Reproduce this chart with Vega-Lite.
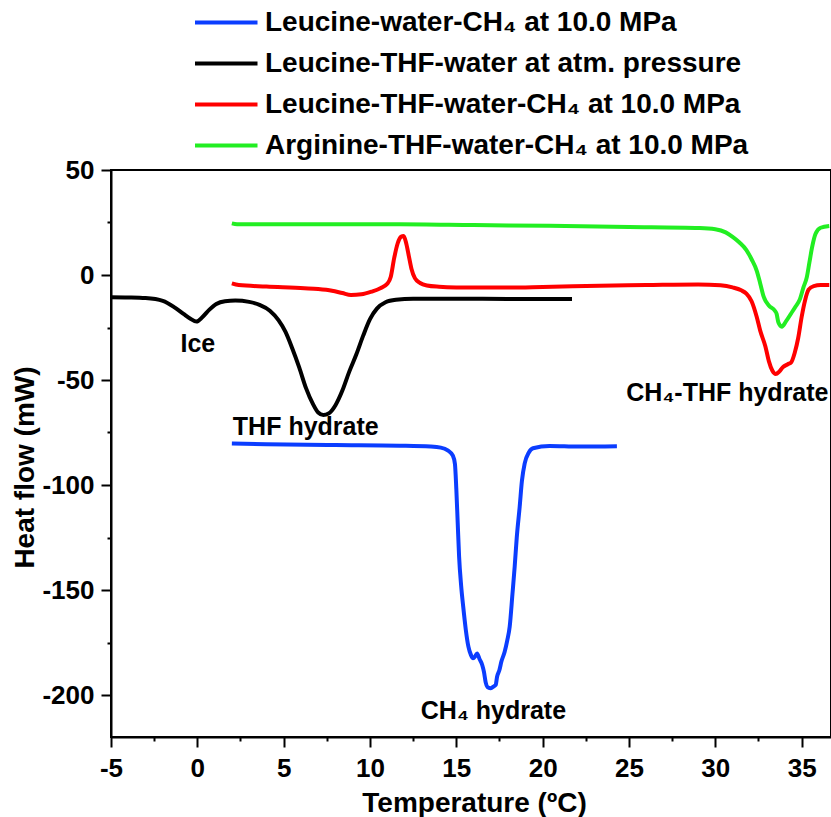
{
  "$schema": "https://vega.github.io/schema/vega-lite/v6.json",
  "width": 720,
  "height": 567,
  "autosize": {"type": "none"},
  "padding": {"left": 111, "top": 170, "right": 0, "bottom": 80},
  "background": "white",
  "config": {
    "view": {"stroke": "black", "strokeWidth": 2},
    "font": "Liberation Sans"
  },
  "datasets": {
    "curves": [
      {"series": "Leucine-THF-water at atm. pressure", "T": -5, "Q": -10.6},
      {"series": "Leucine-THF-water at atm. pressure", "T": -4, "Q": -10.7},
      {"series": "Leucine-THF-water at atm. pressure", "T": -3, "Q": -11.0},
      {"series": "Leucine-THF-water at atm. pressure", "T": -2, "Q": -12.3},
      {"series": "Leucine-THF-water at atm. pressure", "T": -1.3, "Q": -15.5},
      {"series": "Leucine-THF-water at atm. pressure", "T": -0.8, "Q": -18.5},
      {"series": "Leucine-THF-water at atm. pressure", "T": -0.4, "Q": -20.8},
      {"series": "Leucine-THF-water at atm. pressure", "T": -0.05, "Q": -22.2},
      {"series": "Leucine-THF-water at atm. pressure", "T": 0.3, "Q": -20.0},
      {"series": "Leucine-THF-water at atm. pressure", "T": 0.7, "Q": -16.5},
      {"series": "Leucine-THF-water at atm. pressure", "T": 1.1, "Q": -13.8},
      {"series": "Leucine-THF-water at atm. pressure", "T": 1.6, "Q": -12.5},
      {"series": "Leucine-THF-water at atm. pressure", "T": 2.2, "Q": -12.2},
      {"series": "Leucine-THF-water at atm. pressure", "T": 3.0, "Q": -12.8},
      {"series": "Leucine-THF-water at atm. pressure", "T": 3.6, "Q": -14.2},
      {"series": "Leucine-THF-water at atm. pressure", "T": 4.2, "Q": -17.0},
      {"series": "Leucine-THF-water at atm. pressure", "T": 4.7, "Q": -21.5},
      {"series": "Leucine-THF-water at atm. pressure", "T": 5.1, "Q": -27.0},
      {"series": "Leucine-THF-water at atm. pressure", "T": 5.5, "Q": -35.0},
      {"series": "Leucine-THF-water at atm. pressure", "T": 5.9, "Q": -44.0},
      {"series": "Leucine-THF-water at atm. pressure", "T": 6.3, "Q": -54.0},
      {"series": "Leucine-THF-water at atm. pressure", "T": 6.7, "Q": -61.5},
      {"series": "Leucine-THF-water at atm. pressure", "T": 7.0, "Q": -65.5},
      {"series": "Leucine-THF-water at atm. pressure", "T": 7.3, "Q": -66.7},
      {"series": "Leucine-THF-water at atm. pressure", "T": 7.6, "Q": -66.0},
      {"series": "Leucine-THF-water at atm. pressure", "T": 8.0, "Q": -62.0},
      {"series": "Leucine-THF-water at atm. pressure", "T": 8.4, "Q": -55.0},
      {"series": "Leucine-THF-water at atm. pressure", "T": 8.8, "Q": -46.0},
      {"series": "Leucine-THF-water at atm. pressure", "T": 9.2, "Q": -38.0},
      {"series": "Leucine-THF-water at atm. pressure", "T": 9.6, "Q": -29.0},
      {"series": "Leucine-THF-water at atm. pressure", "T": 10.0, "Q": -21.0},
      {"series": "Leucine-THF-water at atm. pressure", "T": 10.4, "Q": -16.0},
      {"series": "Leucine-THF-water at atm. pressure", "T": 10.9, "Q": -13.0},
      {"series": "Leucine-THF-water at atm. pressure", "T": 11.5, "Q": -11.8},
      {"series": "Leucine-THF-water at atm. pressure", "T": 12.5, "Q": -11.3},
      {"series": "Leucine-THF-water at atm. pressure", "T": 15, "Q": -11.3},
      {"series": "Leucine-THF-water at atm. pressure", "T": 18, "Q": -11.4},
      {"series": "Leucine-THF-water at atm. pressure", "T": 21.7, "Q": -11.4},

      {"series": "Leucine-THF-water-CH₄ at 10.0 MPa", "T": 2.0, "Q": -4.0},
      {"series": "Leucine-THF-water-CH₄ at 10.0 MPa", "T": 2.4, "Q": -4.8},
      {"series": "Leucine-THF-water-CH₄ at 10.0 MPa", "T": 4.0, "Q": -5.5},
      {"series": "Leucine-THF-water-CH₄ at 10.0 MPa", "T": 6.2, "Q": -6.3},
      {"series": "Leucine-THF-water-CH₄ at 10.0 MPa", "T": 7.0, "Q": -6.7},
      {"series": "Leucine-THF-water-CH₄ at 10.0 MPa", "T": 7.8, "Q": -7.5},
      {"series": "Leucine-THF-water-CH₄ at 10.0 MPa", "T": 8.4, "Q": -8.6},
      {"series": "Leucine-THF-water-CH₄ at 10.0 MPa", "T": 8.9, "Q": -9.5},
      {"series": "Leucine-THF-water-CH₄ at 10.0 MPa", "T": 9.5, "Q": -9.2},
      {"series": "Leucine-THF-water-CH₄ at 10.0 MPa", "T": 10.1, "Q": -7.9},
      {"series": "Leucine-THF-water-CH₄ at 10.0 MPa", "T": 10.6, "Q": -6.3},
      {"series": "Leucine-THF-water-CH₄ at 10.0 MPa", "T": 11.0, "Q": -4.2},
      {"series": "Leucine-THF-water-CH₄ at 10.0 MPa", "T": 11.2, "Q": -1.0},
      {"series": "Leucine-THF-water-CH₄ at 10.0 MPa", "T": 11.4, "Q": 8.0},
      {"series": "Leucine-THF-water-CH₄ at 10.0 MPa", "T": 11.6, "Q": 15.0},
      {"series": "Leucine-THF-water-CH₄ at 10.0 MPa", "T": 11.8, "Q": 18.2},
      {"series": "Leucine-THF-water-CH₄ at 10.0 MPa", "T": 11.95, "Q": 18.6},
      {"series": "Leucine-THF-water-CH₄ at 10.0 MPa", "T": 12.1, "Q": 15.0},
      {"series": "Leucine-THF-water-CH₄ at 10.0 MPa", "T": 12.25, "Q": 9.0},
      {"series": "Leucine-THF-water-CH₄ at 10.0 MPa", "T": 12.4, "Q": 3.0},
      {"series": "Leucine-THF-water-CH₄ at 10.0 MPa", "T": 12.6, "Q": -1.5},
      {"series": "Leucine-THF-water-CH₄ at 10.0 MPa", "T": 12.9, "Q": -3.8},
      {"series": "Leucine-THF-water-CH₄ at 10.0 MPa", "T": 13.3, "Q": -5.0},
      {"series": "Leucine-THF-water-CH₄ at 10.0 MPa", "T": 14.0, "Q": -5.6},
      {"series": "Leucine-THF-water-CH₄ at 10.0 MPa", "T": 15.0, "Q": -5.9},
      {"series": "Leucine-THF-water-CH₄ at 10.0 MPa", "T": 17.5, "Q": -6.0},
      {"series": "Leucine-THF-water-CH₄ at 10.0 MPa", "T": 20.0, "Q": -5.7},
      {"series": "Leucine-THF-water-CH₄ at 10.0 MPa", "T": 23.3, "Q": -5.1},
      {"series": "Leucine-THF-water-CH₄ at 10.0 MPa", "T": 26.0, "Q": -4.8},
      {"series": "Leucine-THF-water-CH₄ at 10.0 MPa", "T": 29.0, "Q": -4.5},
      {"series": "Leucine-THF-water-CH₄ at 10.0 MPa", "T": 30.3, "Q": -4.9},
      {"series": "Leucine-THF-water-CH₄ at 10.0 MPa", "T": 31.0, "Q": -5.9},
      {"series": "Leucine-THF-water-CH₄ at 10.0 MPa", "T": 31.5, "Q": -7.3},
      {"series": "Leucine-THF-water-CH₄ at 10.0 MPa", "T": 31.8, "Q": -8.9},
      {"series": "Leucine-THF-water-CH₄ at 10.0 MPa", "T": 32.1, "Q": -12.5},
      {"series": "Leucine-THF-water-CH₄ at 10.0 MPa", "T": 32.4, "Q": -20.0},
      {"series": "Leucine-THF-water-CH₄ at 10.0 MPa", "T": 32.6, "Q": -26.5},
      {"series": "Leucine-THF-water-CH₄ at 10.0 MPa", "T": 32.9, "Q": -34.0},
      {"series": "Leucine-THF-water-CH₄ at 10.0 MPa", "T": 33.1, "Q": -41.0},
      {"series": "Leucine-THF-water-CH₄ at 10.0 MPa", "T": 33.3, "Q": -45.5},
      {"series": "Leucine-THF-water-CH₄ at 10.0 MPa", "T": 33.5, "Q": -47.1},
      {"series": "Leucine-THF-water-CH₄ at 10.0 MPa", "T": 33.7, "Q": -46.0},
      {"series": "Leucine-THF-water-CH₄ at 10.0 MPa", "T": 33.9, "Q": -44.0},
      {"series": "Leucine-THF-water-CH₄ at 10.0 MPa", "T": 34.2, "Q": -42.5},
      {"series": "Leucine-THF-water-CH₄ at 10.0 MPa", "T": 34.4, "Q": -41.5},
      {"series": "Leucine-THF-water-CH₄ at 10.0 MPa", "T": 34.6, "Q": -37.0},
      {"series": "Leucine-THF-water-CH₄ at 10.0 MPa", "T": 34.8, "Q": -30.0},
      {"series": "Leucine-THF-water-CH₄ at 10.0 MPa", "T": 35.0, "Q": -20.0},
      {"series": "Leucine-THF-water-CH₄ at 10.0 MPa", "T": 35.2, "Q": -12.0},
      {"series": "Leucine-THF-water-CH₄ at 10.0 MPa", "T": 35.4, "Q": -7.0},
      {"series": "Leucine-THF-water-CH₄ at 10.0 MPa", "T": 35.7, "Q": -5.3},
      {"series": "Leucine-THF-water-CH₄ at 10.0 MPa", "T": 36.1, "Q": -4.8},
      {"series": "Leucine-THF-water-CH₄ at 10.0 MPa", "T": 36.6, "Q": -4.8},

      {"series": "Arginine-THF-water-CH₄ at 10.0 MPa", "T": 2.0, "Q": 24.6},
      {"series": "Arginine-THF-water-CH₄ at 10.0 MPa", "T": 2.3, "Q": 24.2},
      {"series": "Arginine-THF-water-CH₄ at 10.0 MPa", "T": 6.0, "Q": 24.2},
      {"series": "Arginine-THF-water-CH₄ at 10.0 MPa", "T": 11.7, "Q": 24.2},
      {"series": "Arginine-THF-water-CH₄ at 10.0 MPa", "T": 16.0, "Q": 23.8},
      {"series": "Arginine-THF-water-CH₄ at 10.0 MPa", "T": 20.4, "Q": 23.4},
      {"series": "Arginine-THF-water-CH₄ at 10.0 MPa", "T": 25.0, "Q": 22.9},
      {"series": "Arginine-THF-water-CH₄ at 10.0 MPa", "T": 29.1, "Q": 22.4},
      {"series": "Arginine-THF-water-CH₄ at 10.0 MPa", "T": 30.0, "Q": 21.8},
      {"series": "Arginine-THF-water-CH₄ at 10.0 MPa", "T": 30.6, "Q": 20.3},
      {"series": "Arginine-THF-water-CH₄ at 10.0 MPa", "T": 31.0, "Q": 18.2},
      {"series": "Arginine-THF-water-CH₄ at 10.0 MPa", "T": 31.4, "Q": 15.5},
      {"series": "Arginine-THF-water-CH₄ at 10.0 MPa", "T": 31.8, "Q": 11.9},
      {"series": "Arginine-THF-water-CH₄ at 10.0 MPa", "T": 32.1, "Q": 7.5},
      {"series": "Arginine-THF-water-CH₄ at 10.0 MPa", "T": 32.4, "Q": 2.0},
      {"series": "Arginine-THF-water-CH₄ at 10.0 MPa", "T": 32.6, "Q": -4.0},
      {"series": "Arginine-THF-water-CH₄ at 10.0 MPa", "T": 32.8, "Q": -10.3},
      {"series": "Arginine-THF-water-CH₄ at 10.0 MPa", "T": 33.1, "Q": -14.5},
      {"series": "Arginine-THF-water-CH₄ at 10.0 MPa", "T": 33.45, "Q": -17.0},
      {"series": "Arginine-THF-water-CH₄ at 10.0 MPa", "T": 33.55, "Q": -18.5},
      {"series": "Arginine-THF-water-CH₄ at 10.0 MPa", "T": 33.65, "Q": -22.5},
      {"series": "Arginine-THF-water-CH₄ at 10.0 MPa", "T": 33.85, "Q": -24.6},
      {"series": "Arginine-THF-water-CH₄ at 10.0 MPa", "T": 34.1, "Q": -22.0},
      {"series": "Arginine-THF-water-CH₄ at 10.0 MPa", "T": 34.4, "Q": -18.2},
      {"series": "Arginine-THF-water-CH₄ at 10.0 MPa", "T": 34.65, "Q": -15.0},
      {"series": "Arginine-THF-water-CH₄ at 10.0 MPa", "T": 34.9, "Q": -11.5},
      {"series": "Arginine-THF-water-CH₄ at 10.0 MPa", "T": 35.1, "Q": -6.0},
      {"series": "Arginine-THF-water-CH₄ at 10.0 MPa", "T": 35.3, "Q": -1.0},
      {"series": "Arginine-THF-water-CH₄ at 10.0 MPa", "T": 35.45, "Q": 6.0},
      {"series": "Arginine-THF-water-CH₄ at 10.0 MPa", "T": 35.6, "Q": 13.0},
      {"series": "Arginine-THF-water-CH₄ at 10.0 MPa", "T": 35.8, "Q": 19.5},
      {"series": "Arginine-THF-water-CH₄ at 10.0 MPa", "T": 36.1, "Q": 22.5},
      {"series": "Arginine-THF-water-CH₄ at 10.0 MPa", "T": 36.6, "Q": 23.3},

      {"series": "Leucine-water-CH₄ at 10.0 MPa", "T": 2.0, "Q": -80.2},
      {"series": "Leucine-water-CH₄ at 10.0 MPa", "T": 4.0, "Q": -80.6},
      {"series": "Leucine-water-CH₄ at 10.0 MPa", "T": 8.0, "Q": -81.0},
      {"series": "Leucine-water-CH₄ at 10.0 MPa", "T": 11.7, "Q": -81.3},
      {"series": "Leucine-water-CH₄ at 10.0 MPa", "T": 13.5, "Q": -81.7},
      {"series": "Leucine-water-CH₄ at 10.0 MPa", "T": 14.1, "Q": -82.2},
      {"series": "Leucine-water-CH₄ at 10.0 MPa", "T": 14.5, "Q": -83.5},
      {"series": "Leucine-water-CH₄ at 10.0 MPa", "T": 14.8, "Q": -86.0},
      {"series": "Leucine-water-CH₄ at 10.0 MPa", "T": 14.92, "Q": -90.0},
      {"series": "Leucine-water-CH₄ at 10.0 MPa", "T": 15.0, "Q": -102.0},
      {"series": "Leucine-water-CH₄ at 10.0 MPa", "T": 15.08, "Q": -118.0},
      {"series": "Leucine-water-CH₄ at 10.0 MPa", "T": 15.16, "Q": -134.0},
      {"series": "Leucine-water-CH₄ at 10.0 MPa", "T": 15.28, "Q": -148.0},
      {"series": "Leucine-water-CH₄ at 10.0 MPa", "T": 15.4, "Q": -158.0},
      {"series": "Leucine-water-CH₄ at 10.0 MPa", "T": 15.55, "Q": -169.0},
      {"series": "Leucine-water-CH₄ at 10.0 MPa", "T": 15.7, "Q": -177.0},
      {"series": "Leucine-water-CH₄ at 10.0 MPa", "T": 15.85, "Q": -181.0},
      {"series": "Leucine-water-CH₄ at 10.0 MPa", "T": 15.97, "Q": -182.5},
      {"series": "Leucine-water-CH₄ at 10.0 MPa", "T": 16.1, "Q": -181.5},
      {"series": "Leucine-water-CH₄ at 10.0 MPa", "T": 16.2, "Q": -180.2},
      {"series": "Leucine-water-CH₄ at 10.0 MPa", "T": 16.35, "Q": -183.0},
      {"series": "Leucine-water-CH₄ at 10.0 MPa", "T": 16.5, "Q": -185.7},
      {"series": "Leucine-water-CH₄ at 10.0 MPa", "T": 16.6, "Q": -189.0},
      {"series": "Leucine-water-CH₄ at 10.0 MPa", "T": 16.7, "Q": -194.0},
      {"series": "Leucine-water-CH₄ at 10.0 MPa", "T": 16.8, "Q": -196.2},
      {"series": "Leucine-water-CH₄ at 10.0 MPa", "T": 16.97, "Q": -196.8},
      {"series": "Leucine-water-CH₄ at 10.0 MPa", "T": 17.15, "Q": -196.0},
      {"series": "Leucine-water-CH₄ at 10.0 MPa", "T": 17.28, "Q": -195.2},
      {"series": "Leucine-water-CH₄ at 10.0 MPa", "T": 17.36, "Q": -191.3},
      {"series": "Leucine-water-CH₄ at 10.0 MPa", "T": 17.5, "Q": -188.0},
      {"series": "Leucine-water-CH₄ at 10.0 MPa", "T": 17.61, "Q": -184.1},
      {"series": "Leucine-water-CH₄ at 10.0 MPa", "T": 17.8, "Q": -179.4},
      {"series": "Leucine-water-CH₄ at 10.0 MPa", "T": 17.95, "Q": -174.0},
      {"series": "Leucine-water-CH₄ at 10.0 MPa", "T": 18.09, "Q": -167.5},
      {"series": "Leucine-water-CH₄ at 10.0 MPa", "T": 18.25, "Q": -152.0},
      {"series": "Leucine-water-CH₄ at 10.0 MPa", "T": 18.38, "Q": -138.9},
      {"series": "Leucine-water-CH₄ at 10.0 MPa", "T": 18.5, "Q": -125.0},
      {"series": "Leucine-water-CH₄ at 10.0 MPa", "T": 18.67, "Q": -110.3},
      {"series": "Leucine-water-CH₄ at 10.0 MPa", "T": 18.8, "Q": -98.0},
      {"series": "Leucine-water-CH₄ at 10.0 MPa", "T": 18.96, "Q": -89.7},
      {"series": "Leucine-water-CH₄ at 10.0 MPa", "T": 19.2, "Q": -84.5},
      {"series": "Leucine-water-CH₄ at 10.0 MPa", "T": 19.44, "Q": -82.5},
      {"series": "Leucine-water-CH₄ at 10.0 MPa", "T": 20.4, "Q": -81.4},
      {"series": "Leucine-water-CH₄ at 10.0 MPa", "T": 22.1, "Q": -81.7},
      {"series": "Leucine-water-CH₄ at 10.0 MPa", "T": 24.3, "Q": -81.5}
    ],
    "notes": [
      {"label": "Ice", "T": 0.03, "Q": -32.9},
      {"label": "THF hydrate", "T": 6.28, "Q": -72.4},
      {"label": "CH₄ hydrate", "T": 17.15, "Q": -207.6},
      {"label": "CH₄-THF hydrate", "T": 30.7, "Q": -56.3}
    ]
  },
  "layer": [
    {
      "data": {"name": "curves"},
      "mark": {"type": "line", "strokeWidth": 4, "interpolate": "monotone", "clip": true},
      "encoding": {
        "x": {
          "field": "T", "type": "quantitative",
          "scale": {"domain": [-5, 36.7], "nice": false, "zero": false},
          "axis": {
            "title": "Temperature (ºC)",
            "values": [-5, -2.5, 0, 2.5, 5, 7.5, 10, 12.5, 15, 17.5, 20, 22.5, 25, 27.5, 30, 32.5, 35],
            "labelExpr": "datum.value % 5 === 0 ? '' + datum.value : ''",
            "tickSize": {"condition": {"test": "datum.value % 5 === 0", "value": 10}, "value": 4},
            "tickWidth": 2, "tickColor": "black",
            "domainColor": "black", "domainWidth": 2,
            "grid": false,
            "labelFont": "Liberation Sans", "labelFontSize": 26, "labelFontWeight": "bold", "labelColor": "black",
            "labelPadding": 8, "labelOverlap": false, "labelFlush": false, "labelBound": false,
            "titleFont": "Liberation Sans", "titleFontSize": 28, "titleFontWeight": "bold", "titleColor": "black",
            "titleX": 363, "titleY": 66, "titleBaseline": "middle", "titleAlign": "center"
          }
        },
        "y": {
          "field": "Q", "type": "quantitative",
          "scale": {"domain": [-220, 50], "nice": false, "zero": false},
          "axis": {
            "title": "Heat flow (mW)",
            "values": [-200, -175, -150, -125, -100, -75, -50, -25, 0, 25, 50],
            "labelExpr": "datum.value % 50 === 0 ? '' + datum.value : ''",
            "tickSize": {"condition": {"test": "datum.value % 50 === 0", "value": 10}, "value": 4},
            "tickWidth": 2, "tickColor": "black",
            "domainColor": "black", "domainWidth": 2,
            "grid": false,
            "labelFont": "Liberation Sans", "labelFontSize": 26, "labelFontWeight": "bold", "labelColor": "black",
            "labelPadding": 7, "labelOverlap": false, "labelFlush": false, "labelBound": false,
            "titleFont": "Liberation Sans", "titleFontSize": 28, "titleFontWeight": "bold", "titleColor": "black",
            "titleX": -86, "titleY": 297, "titleBaseline": "middle", "titleAlign": "center", "titleAngle": -90
          }
        },
        "color": {
          "field": "series", "type": "nominal",
          "scale": {
            "domain": ["Leucine-water-CH₄ at 10.0 MPa", "Leucine-THF-water at atm. pressure", "Leucine-THF-water-CH₄ at 10.0 MPa", "Arginine-THF-water-CH₄ at 10.0 MPa"],
            "range": ["#0b3dff", "#000000", "#ff0000", "#22ee22"]
          },
          "legend": {
            "title": null,
            "orient": "none",
            "legendX": 82,
            "legendY": -162,
            "padding": 0,
            "symbolType": "M-1,0H4",
            "symbolSize": 625,
            "symbolStrokeWidth": 4,
            "labelFont": "Liberation Sans",
            "labelFontSize": 28,
            "labelFontWeight": "bold",
            "labelColor": "black",
            "labelLimit": 700,
            "labelOffset": 43,
            "rowPadding": 12
          }
        }
      }
    },
    {
      "data": {"name": "notes"},
      "mark": {"type": "text", "font": "Liberation Sans", "fontSize": 25, "fontWeight": "bold", "color": "black", "align": "center", "baseline": "middle"},
      "encoding": {
        "x": {"field": "T", "type": "quantitative"},
        "y": {"field": "Q", "type": "quantitative"},
        "text": {"field": "label"}
      }
    }
  ]
}
